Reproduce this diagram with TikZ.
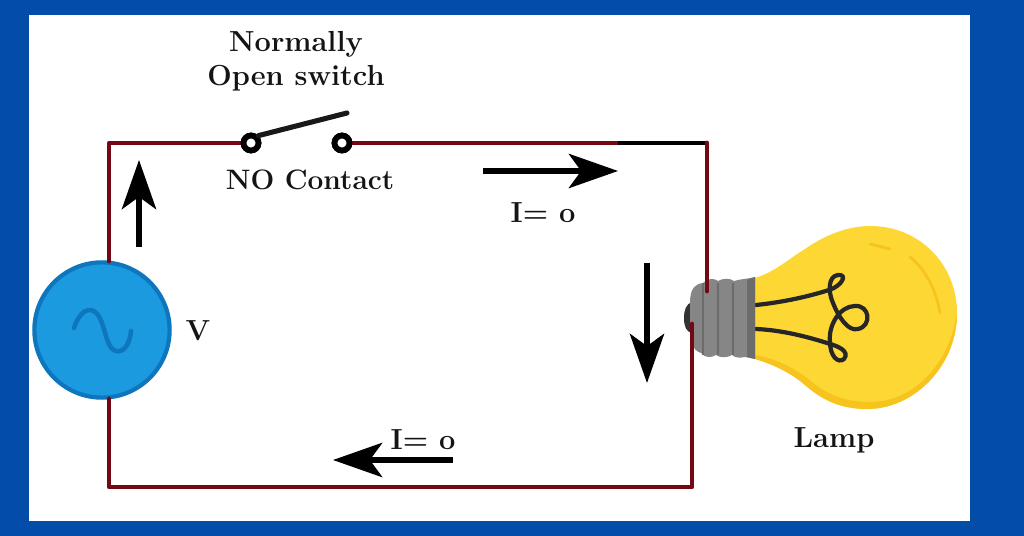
\documentclass[tikz,border=0pt]{standalone}
\usetikzlibrary{arrows.meta}
\definecolor{frame}{RGB}{3,76,168}
\definecolor{copper}{RGB}{114,8,20}
\definecolor{srcfill}{RGB}{27,154,224}
\definecolor{srcline}{RGB}{14,118,188}
\definecolor{glass}{RGB}{253,216,53}
\definecolor{glassdark}{RGB}{247,196,30}
\definecolor{socket}{RGB}{134,134,134}
\definecolor{socketdark}{RGB}{108,108,108}
\tikzset{
    % Circuit conductor
    wire/.style={
        draw=copper,
        line width=2.7pt,
        line cap=round,
        line join=round,
    },
    % Current direction
    flow/.style={
        draw=black,
        line width=2.9pt,
        -{Stealth[length=28pt,width=19.5pt,inset=7pt]},
    },
    % Switch terminal
    terminal/.style={
        circle,
        draw=black,
        fill=white,
        line width=3.3pt,
        minimum size=8.5pt,
        inner sep=0pt,
    },
    % Text
    caption/.style={
        font=\fontsize{16.5}{19.5}\selectfont\bfseries,
        text=black!92,
        inner sep=0pt,
        align=center,
    },
    % Filament
    filament/.style={
        draw=black!85,
        line width=2.4pt,
        line cap=round,
    },
}
\begin{document}
\begin{tikzpicture}[x=0.02cm,y=-0.02cm]
    \useasboundingbox (0,0) rectangle (1024,536);
    \fill[frame] (0,0) rectangle (1024,536);
    \fill[white] (29,15) rectangle (970,521);

    % Source and switch
    \node[circle,draw=srcline,fill=srcfill,line width=2.4pt,minimum size=77pt,inner sep=0pt] (source) at (102,330) {};
    \draw[srcline,line width=2.6pt,line cap=round] (74,328) .. controls (79,312) and (90,304) .. (98,315) .. controls (106,327) and (106,349) .. (116,351) .. controls (125,353) and (130,342) .. (131,331);
    \node[terminal] (contactA) at (251,143) {};
    \node[terminal] (contactB) at (342,143) {};
    \coordinate (armEnd) at (347,113);

    % Lamp
    \fill[glass] (755,278) .. controls (775,272) and (790,258) .. (805,249) .. controls (825,235) and (848,226) .. (870,226) .. controls (920,226) and (957,265) .. (957,313) .. controls (957,365) and (915,409) .. (867,409) .. controls (838,409) and (820,398) .. (805,385) .. controls (790,372) and (772,364) .. (755,359) -- cycle;
    \fill[glassdark] (957,313) .. controls (957,365) and (915,409) .. (867,409) .. controls (838,409) and (820,398) .. (805,385) .. controls (790,372) and (772,364) .. (755,359) -- (755,355) .. controls (775,358) and (795,368) .. (812,382) .. controls (830,397) and (850,402) .. (870,402) .. controls (915,402) and (950,362) .. (957,313) -- cycle;
    \draw[glassdark,line width=1.6pt,line cap=round] (910,257) .. controls (926,270) and (936,290) .. (940,313);
    \draw[glassdark,line width=1.6pt,line cap=round] (870,244) -- (890,249);
    \draw[filament] (756,305) .. controls (785,302) and (810,296) .. (829,290) .. controls (842,286) and (848,274) .. (838,275) .. controls (828,276) and (828,292) .. (833,303) .. controls (838,316) and (848,332) .. (858,329) .. controls (872,326) and (870,305) .. (855,306) .. controls (840,306) and (828,325) .. (830,342) .. controls (830,356) and (838,364) .. (844,359) .. controls (850,351) and (838,346) .. (827,343) .. controls (805,336) and (780,330) .. (756,329);

    % Lamp socket
    \fill[black!80] (692,302) .. controls (686,304) and (684,310) .. (684,318) .. controls (684,326) and (686,332) .. (692,333) -- cycle;
    \fill[socket] (755,277) -- (755,359) -- (745,357) .. controls (740,358) and (735,358) .. (732,355) .. controls (727,358) and (720,358) .. (716,355) .. controls (711,358) and (705,358) .. (701,353) .. controls (692,350) and (690,342) .. (690,325) -- (690,300) .. controls (691,288) and (695,284) .. (703,283) .. controls (708,278) and (714,278) .. (718,281) .. controls (723,278) and (730,278) .. (734,281) .. controls (740,279) and (748,279) .. (755,277) -- cycle;
    \fill[socketdark] (747,280) -- (755,277) -- (755,359) -- (747,357) -- cycle;
    \foreach \ridgeX in {703,718,733} {
        \draw[socketdark,line width=1.4pt] (\ridgeX,283) -- (\ridgeX,355);
    }

    % Conductors
    \coordinate (cornerTL) at (109,143);
    \coordinate (cornerTR) at (707,143);
    \coordinate (cornerBR) at (692,487);
    \coordinate (cornerBL) at (109,487);
    \coordinate (blackStart) at (618,143);
    \coordinate (lampTop) at (707,291);
    \coordinate (lampBottom) at (692,324);
    \coordinate (sourceTop) at (109,261);
    \coordinate (sourceBottom) at (109,399);
    \draw[wire] (sourceTop) -- (cornerTL) -- (contactA);
    \draw[wire] (contactB) -- (blackStart);
    \draw[draw=black,line width=2.7pt] (blackStart) -- (cornerTR);
    \draw[wire] (cornerTR) -- (lampTop);
    \draw[wire] (lampBottom) -- (cornerBR) -- (cornerBL) -- (sourceBottom);
    \node[terminal] at (contactA) {};
    \node[terminal] at (contactB) {};
    \draw[black!90,line width=2.9pt,line cap=round] (contactA.45) -- (armEnd);

    % Current arrows
    \coordinate (upStart) at (139,247);
    \coordinate (upEnd) at (139,160);
    \coordinate (rightStart) at (483,171);
    \coordinate (rightEnd) at (618,171);
    \coordinate (downStart) at (647,263);
    \coordinate (downEnd) at (647,383);
    \coordinate (leftStart) at (453,460);
    \coordinate (leftEnd) at (333,460);
    \draw[flow] (upStart) -- (upEnd);
    \draw[flow] (rightStart) -- (rightEnd);
    \draw[flow] (downStart) -- (downEnd);
    \draw[flow] (leftStart) -- (leftEnd);

    % Labels
    \node[caption] (switchLabel) at (296,61) {Normally\\Open switch};
    \node[caption,font=\fontsize{16}{19.5}\selectfont\bfseries] (contactLabel) at (310,180) {NO Contact};
    \node[caption] (voltLabel) at (198,331) {V};
    \node[caption] (currentTop) at (543,213) {I= o};
    \node[caption] (currentBottom) at (423,440) {I= o};
    \node[caption] (lampLabel) at (834,440) {Lamp};
\end{tikzpicture}
\end{document}
